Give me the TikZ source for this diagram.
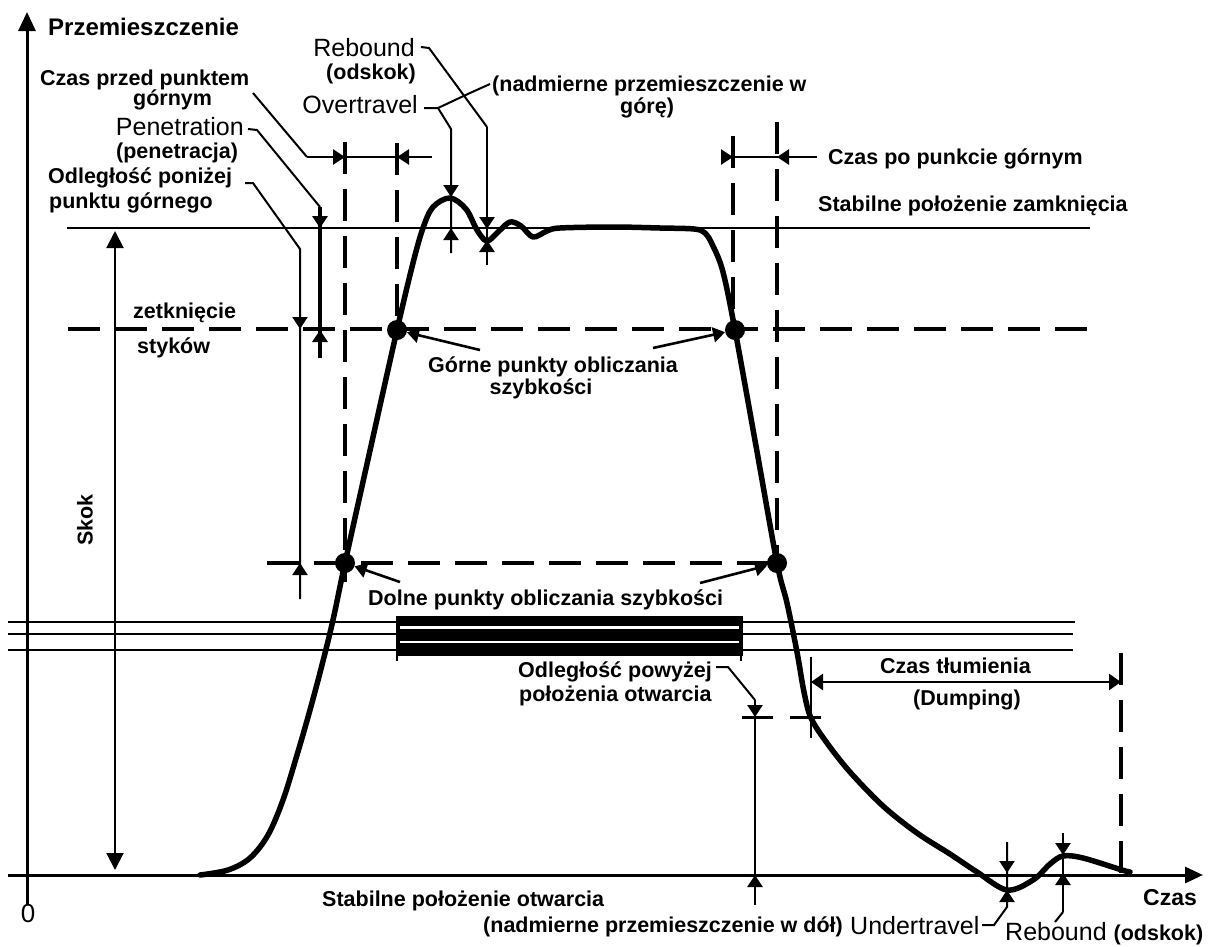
\documentclass[tikz,border=0pt]{standalone}
\usepackage{fontspec}
\setmainfont{Liberation Sans}
\usetikzlibrary{arrows.meta}

\begin{document}
\begin{tikzpicture}[x=1pt,y=-1pt,
  bl/.style={font=\fontsize{21.5}{25}\selectfont\bfseries, inner sep=0pt},
  rg/.style={font=\fontsize{25}{28}\selectfont, inner sep=0pt},
  axisline/.style={line width=3pt},
  thinl/.style={line width=2pt},
  medl/.style={line width=2.6pt},
  dashl/.style={line width=3.6pt, dash pattern=on 32pt off 15pt},
  motion/.style={line width=5.5pt, line join=round, line cap=round},
  arrtip/.style={-{Triangle[length=12pt,width=15pt]}},
  bigtip/.style={{Triangle[length=17pt,width=17pt]}-{Triangle[length=17pt,width=17pt]}},
  calcdot/.style={circle, fill=black, minimum size=20pt, inner sep=0pt},
]
\useasboundingbox (0,0) rectangle (1208,946);

% ---------- axes ----------
\draw[axisline, -{Triangle[length=19pt,width=17pt]}] (27,905) -- (27,12);
\draw[axisline, -{Triangle[length=18pt,width=16pt]}] (8,875) -- (1203,875);
\node[font=\fontsize{24}{28}\selectfont\bfseries, inner sep=0pt, anchor=base west] (ylab) at (48,35) {Przemieszczenie};
\node[font=\fontsize{23}{27}\selectfont\bfseries, inner sep=0pt, anchor=base west] (xlab) at (1143,905) {Czas};
\node[font=\fontsize{26}{30}\selectfont, inner sep=0pt, anchor=base] (zero) at (28,922) {0};

% ---------- reference levels ----------
\draw[thinl] (67,228) -- (1090,228);
\draw[dashl] (68,329) -- (1092,329);
\draw[dashl] (267,563) -- (772,563);
\draw[thinl] (8,622) -- (1075,622);
\draw[thinl] (8,634) -- (1073,634);
\draw[thinl] (8,650) -- (1073,650);

% contact overlap bar
\fill (396,616) rectangle (743,656);
\draw[white, line width=2.4pt] (400,627.5) -- (739,627.5);
\draw[white, line width=2.4pt] (400,642) -- (739,642);
\draw[medl] (397,616) -- (397,661);
\draw[medl] (741,616) -- (741,661);

% ---------- vertical time marks ----------
\draw[dashl] (345,142) -- (345,582);
\draw[dashl] (397,143) -- (397,335);
\draw[dashl] (733,136) -- (733,330);
\draw[dashl] (777,122) -- (777,563);
\draw[dashl] (1121,653) -- (1121,882);

% time before upper point
\node[bl, anchor=base west] (tbefore1) at (40,85) {Czas przed punktem};
\node[bl, anchor=base west] (tbefore2) at (133,105) {górnym};
\coordinate (tbL) at (307,157);
\draw[thinl] (253,93) -- (tbL);
\draw[medl] (tbL) -- (432,157);
\draw[medl, arrtip] (tbL) -- (345,157);
\draw[medl, arrtip] (432,157) -- (397,157);

% time after upper point
\node[bl, anchor=base west] (tafter) at (828,164) {Czas po punkcie górnym};
\draw[medl] (722,157) -- (817,157);
\draw[medl, arrtip] (722,157) -- (733,157);
\draw[medl, arrtip] (817,157) -- (777,157);

% damping time
\node[bl, anchor=base west] (tdamp1) at (880,673) {Czas tłumienia};
\node[bl, anchor=base west] (tdamp2) at (913,705) {(Dumping)};
\draw[thinl] (811,657) -- (811,738);
\draw[medl, {Triangle[length=12pt,width=16pt]}-{Triangle[length=12pt,width=16pt]}] (811,682) -- (1121,682);

% ---------- stroke ----------
\draw[thinl, bigtip] (115,231) -- (115,870);
\node[bl, rotate=90] (skok) at (85,520) {Skok};

% ---------- level labels ----------
\node[bl, anchor=base west] (closed) at (818,211) {Stabilne położenie zamknięcia};
\node[bl, anchor=base west] (contact1) at (133,318) {zetknięcie};
\node[bl, anchor=base west] (contact2) at (137,353) {styków};
\node[bl, anchor=base west] (open1) at (322,906) {Stabilne położenie otwarcia};
\node[bl, anchor=base west] (open2) at (483,932) {(nadmierne przemieszczenie w dół)};

% ---------- distance below upper point ----------
\node[bl, anchor=base west] (below1) at (48,183) {Odległość poniżej};
\node[bl, anchor=base west] (below2) at (49,208) {punktu górnego};
\draw[thinl] (245,183) -- (253,183) -- (300,249) -- (300,599);
\draw[thinl, arrtip] (300,305) -- (300,329);
\draw[thinl, arrtip] (300,590) -- (300,563);

% ---------- penetration ----------
\node[rg, anchor=base east] (pen1) at (244,135) {Penetration};
\node[bl, anchor=base west] (pen2) at (116,158) {(penetracja)};
\draw[thinl] (248,129) -- (257,130) -- (320,207);
\draw[line width=3.5pt] (320,207) -- (320,358);
\draw[line width=3.5pt, arrtip] (320,207) -- (320,228);
\draw[line width=3.5pt, arrtip] (320,352) -- (320,330);

% ---------- overtravel ----------
\node[rg, anchor=base east] (over) at (418,113) {Overtravel};
\node[bl, anchor=base west] (overpl1) at (492,91) {(nadmierne przemieszczenie w};
\node[bl, anchor=base west] (overpl2) at (620,113) {górę)};
\coordinate (ovk) at (438,108);
\draw[thinl] (424,108) -- (ovk) -- (451,129) -- (451,253);
\draw[thinl] (490,84) -- (470,93) -- (ovk);
\draw[thinl, arrtip] (451,180) -- (451,197);
\draw[thinl, arrtip] (451,246) -- (451,228);

% ---------- rebound (upper) ----------
\node[rg, anchor=base east] (reb1) at (415,56) {Rebound};
\node[bl, anchor=base east] (reb2) at (416,79) {(odskok)};
\draw[thinl] (421,47) -- (429,48) -- (487,127);
\draw[medl] (487,127) -- (487,265);
\draw[medl, arrtip] (487,212) -- (487,229);
\draw[medl, arrtip] (487,258) -- (487,240);

% ---------- distance above open position ----------
\node[bl, anchor=base west] (above1) at (518,677) {Odległość powyżej};
\node[bl, anchor=base west] (above2) at (519,701) {położenia otwarcia};
\draw[thinl] (716,667) -- (728,667) -- (755,700);
\draw[medl] (755,700) -- (755,905);
\draw[medl, arrtip] (755,700) -- (755,717);
\draw[medl, arrtip] (755,895) -- (755,875);
\draw[line width=3pt, dash pattern=on 31pt off 17pt] (742,717) -- (822,717);

% ---------- undertravel ----------
\node[rg, anchor=base west] (under) at (850,934) {Undertravel};
\draw[thinl] (982,925) -- (994,925) -- (1007,907) -- (1007,842);
\draw[thinl, arrtip] (1007,856) -- (1007,873);
\draw[thinl, arrtip] (1007,906) -- (1007,890);

% ---------- rebound (lower) ----------
\node[anchor=base west, inner sep=0pt] (reb3) at (1005,940)
  {\fontsize{25}{28}\selectfont Rebound \fontsize{21.5}{25}\selectfont\bfseries(odskok)};
\draw[thinl] (1055,922) -- (1063,912);
\draw[medl] (1063,912) -- (1063,833);
\draw[medl, arrtip] (1063,838) -- (1063,855);
\draw[medl, arrtip] (1063,893) -- (1063,873);

% ---------- speed calculation points ----------
\node[bl, anchor=base] (upp1) at (553,372) {Górne punkty obliczania};
\node[bl, anchor=base] (upp2) at (541,394) {szybkości};
\node[bl, anchor=base west] (low) at (368,605) {Dolne punkty obliczania szybkości};

% ---------- contact travel curve ----------
\draw[motion] plot[smooth, tension=0.55] coordinates {
  (200,875) (228,870) (250,858) (268,835) (283,800) (297,755) (310,710)
  (322,665) (333,620) (345,563) (371,446) (397,330) (413,263) (423,228)
  (433,207) (450,198) (466,209) (477,230) (487,241) (499,231) (510,222)
  (521,226) (533,237) (547,231) (560,228) (613,227) (660,228) (694,229)
  (705,233) (713,246) (723,272) (735,330) (756,446) (777,563) (787,603)
  (797,652) (804,692) (811,718) (827,743) (850,772) (883,806) (917,833)
  (950,854) (977,872) (1007,890) (1033,880) (1050,864) (1063,856)
  (1083,858) (1122,870) (1130,872)};

\node[calcdot] (pU1) at (397,330) {};
\node[calcdot] (pU2) at (735,330) {};
\node[calcdot] (pL1) at (345,563) {};
\node[calcdot] (pL2) at (777,563) {};

\draw[medl, arrtip] (480,350) -- (pU1);
\draw[medl, arrtip] (653,348) -- (pU2);
\draw[medl, arrtip] (400,582) -- (pL1);
\draw[medl, arrtip] (700,583) -- (pL2);

\end{tikzpicture}
\end{document}
